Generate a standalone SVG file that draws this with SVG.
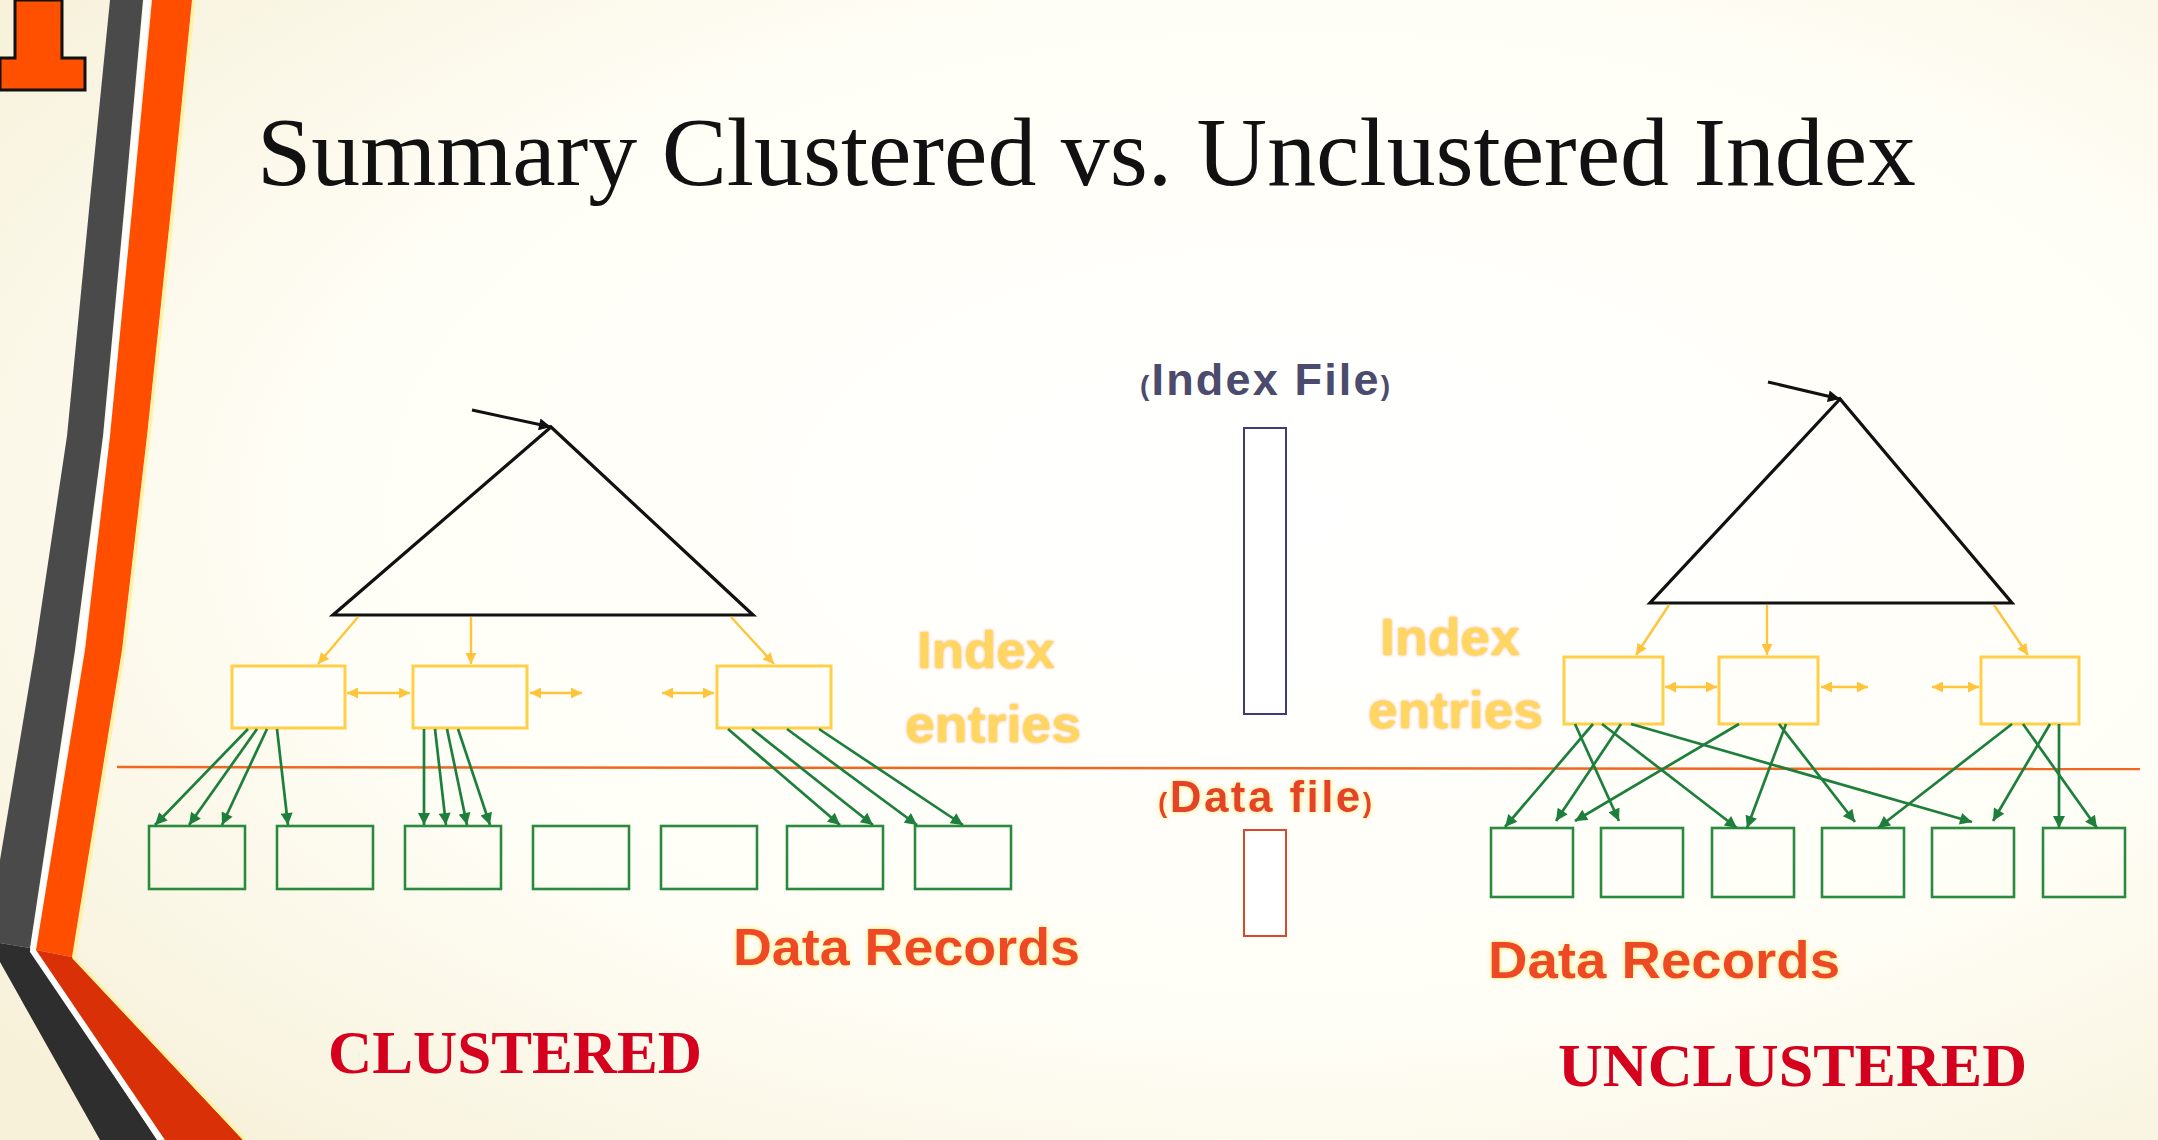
<svg xmlns="http://www.w3.org/2000/svg" width="2158" height="1140" viewBox="0 0 2158 1140">
<defs>
  <radialGradient id="bg" cx="0.6" cy="0.45" r="0.75">
    <stop offset="0" stop-color="#FFFFFF"/>
    <stop offset="0.6" stop-color="#FFFEF6"/>
    <stop offset="1" stop-color="#F7F1DA"/>
  </radialGradient>
  <marker id="ga" viewBox="0 0 10 10" refX="10" refY="5" markerWidth="16" markerHeight="12" markerUnits="userSpaceOnUse" orient="auto">
    <path d="M0,0 L10,5 L0,10 z" fill="#1E7F3C"/>
  </marker>
  <marker id="ya" viewBox="0 0 10 10" refX="10" refY="5" markerWidth="12" markerHeight="11" markerUnits="userSpaceOnUse" orient="auto-start-reverse">
    <path d="M0,0 L10,5 L0,10 z" fill="#FFC43A"/>
  </marker>
  <marker id="ba" viewBox="0 0 10 10" refX="10" refY="5" markerWidth="18" markerHeight="12" markerUnits="userSpaceOnUse" orient="auto">
    <path d="M0,0 L10,5 L0,10 z" fill="#111"/>
  </marker>
  <filter id="glowY" x="-10%" y="-20%" width="120%" height="140%">
    <feDropShadow dx="0" dy="0" stdDeviation="1.6" flood-color="#F5A060" flood-opacity="0.9"/>
  </filter>
  <filter id="glowR" x="-10%" y="-20%" width="120%" height="140%">
    <feDropShadow dx="0" dy="0" stdDeviation="2.5" flood-color="#FFE35A" flood-opacity="0.9"/>
  </filter>
  <style>
    .title{font-family:"Liberation Serif","Times New Roman",serif;font-size:97px;fill:#111}
    .big{font-family:"Liberation Serif","Times New Roman",serif;font-weight:bold;font-size:61px;fill:#D4001E}
    .ie{font-family:"Liberation Sans",Arial,sans-serif;font-weight:bold;font-size:52px;fill:#FFD65E;filter:url(#glowY)}
    .dr{font-family:"Liberation Sans",Arial,sans-serif;font-weight:bold;font-size:52px;fill:#EE4A28;filter:url(#glowR)}
    .tri{fill:none;stroke:#111;stroke-width:3.2;stroke-linejoin:miter}
    .ibox{fill:#FFFEF8;stroke:#FFCF48;stroke-width:3}
    .dbox{fill:none;stroke:#2A8A3E;stroke-width:2.6}
    .g{stroke:#1E7F3C;stroke-width:2.7;fill:none;marker-end:url(#ga)}
    .y{stroke:#FFC43A;stroke-width:2.4;fill:none;marker-end:url(#ya)}
    .yy{stroke:#FFC43A;stroke-width:2.4;fill:none;marker-start:url(#ya);marker-end:url(#ya)}
    .ptr{stroke:#111;stroke-width:3;fill:none;marker-end:url(#ba)}
  </style>
</defs>

<rect x="0" y="0" width="2158" height="1140" fill="url(#bg)"/>

<!-- left decoration -->
<g id="decoration">
  <polygon points="15,0 62,0 62,58 85,58 85,90 0,90 0,58 15,58" fill="#FF5000" stroke="#111" stroke-width="3"/>
  <polygon points="110,0 143,0 125,200 103,436 75,650 30,948 0,943 0,860 10,800 35,650 67,436 90,200" fill="#4A4A4A"/>
  <polygon points="0,943 30,948 157,1140 100,1140 0,962" fill="#2E2E2E"/>
  <polyline points="147,0 129,200 107,436 80,650 33,951 161,1140" fill="none" stroke="#FFFFFF" stroke-width="6"/>
  <polygon points="152,0 192,0 172,200 147,436 122,650 72,957 36,950 85,650 110,436 133,200" fill="#FF4E00"/>
  <polygon points="36,950 72,957 243,1140 165,1140" fill="#D93008"/>
  <polyline points="194,0 174,200 149,436 124,650 74,958 245,1140" fill="none" stroke="#FFF2A0" stroke-width="3"/>
</g>

<g id="title">
  <text class="title" x="257" y="185" textLength="1659" lengthAdjust="spacingAndGlyphs">Summary Clustered vs. Unclustered Index</text>
</g>

<!-- separator line -->
<line id="separator" x1="117" y1="767" x2="2140" y2="769" stroke="#F06820" stroke-width="2.5"/>

<!-- LEFT: clustered -->
<g id="left-tree">
  <polygon class="tri" points="551,427 333,615 753,615"/>
</g>
<g id="left-index-1"><rect class="ibox" x="232" y="666" width="113" height="62"/></g>
<g id="left-index-2"><rect class="ibox" x="413" y="666" width="114" height="62"/></g>
<g id="left-index-3"><rect class="ibox" x="717" y="666" width="114" height="62"/></g>
<g id="left-data-1"><rect class="dbox" x="149" y="826" width="96" height="63"/></g>
<g id="left-data-2"><rect class="dbox" x="277" y="826" width="96" height="63"/></g>
<g id="left-data-3"><rect class="dbox" x="405" y="826" width="96" height="63"/></g>
<g id="left-data-4"><rect class="dbox" x="533" y="826" width="96" height="63"/></g>
<g id="left-data-5"><rect class="dbox" x="661" y="826" width="96" height="63"/></g>
<g id="left-data-6"><rect class="dbox" x="787" y="826" width="96" height="63"/></g>
<g id="left-data-7"><rect class="dbox" x="915" y="826" width="96" height="63"/></g>

<!-- RIGHT: unclustered -->
<g id="right-tree">
  <polygon class="tri" points="1840,399 1650,603 2012,603"/>
</g>
<g id="right-index-1"><rect class="ibox" x="1564" y="657" width="99" height="67"/></g>
<g id="right-index-2"><rect class="ibox" x="1719" y="657" width="99" height="67"/></g>
<g id="right-index-3"><rect class="ibox" x="1981" y="657" width="98" height="67"/></g>
<g id="right-data-1"><rect class="dbox" x="1491" y="828" width="82" height="69"/></g>
<g id="right-data-2"><rect class="dbox" x="1601" y="828" width="82" height="69"/></g>
<g id="right-data-3"><rect class="dbox" x="1712" y="828" width="82" height="69"/></g>
<g id="right-data-4"><rect class="dbox" x="1822" y="828" width="82" height="69"/></g>
<g id="right-data-5"><rect class="dbox" x="1932" y="828" width="82" height="69"/></g>
<g id="right-data-6"><rect class="dbox" x="2043" y="828" width="82" height="69"/></g>

<!-- middle legend -->
<g id="index-file">
  <text x="1140" y="395" textLength="250" lengthAdjust="spacing" font-family="'Liberation Sans',Arial,sans-serif" font-weight="bold" fill="#4B4B6E"><tspan font-size="28">(</tspan><tspan font-size="45">Index File</tspan><tspan font-size="28">)</tspan></text>
  <rect x="1244" y="428" width="42" height="286" fill="#FFFFFF" stroke="#3C3C78" stroke-width="2"/>
</g>
<g id="data-file">
  <text x="1158" y="812" textLength="214" lengthAdjust="spacing" font-family="'Liberation Sans',Arial,sans-serif" font-weight="bold" fill="#E5432A" filter="url(#glowR)"><tspan font-size="28">(</tspan><tspan font-size="44">Data file</tspan><tspan font-size="28">)</tspan></text>
  <rect x="1244" y="830" width="42" height="106" fill="#FFFFFF" stroke="#D9482A" stroke-width="2"/>
</g>

<!-- labels -->
<g id="labels">
  <text class="ie" x="917" y="668" textLength="138" lengthAdjust="spacingAndGlyphs">Index</text>
  <text class="ie" x="905" y="742" textLength="176" lengthAdjust="spacingAndGlyphs">entries</text>
  <text class="ie" x="1380" y="655" textLength="140" lengthAdjust="spacingAndGlyphs">Index</text>
  <text class="ie" x="1368" y="728" textLength="175" lengthAdjust="spacingAndGlyphs">entries</text>
  <text class="dr" x="733" y="965" textLength="347" lengthAdjust="spacingAndGlyphs">Data Records</text>
  <text class="dr" x="1488" y="978" textLength="352" lengthAdjust="spacingAndGlyphs">Data Records</text>
  <text class="big" x="328" y="1073" textLength="374" lengthAdjust="spacingAndGlyphs">CLUSTERED</text>
  <text class="big" x="1558" y="1086" textLength="469" lengthAdjust="spacingAndGlyphs">UNCLUSTERED</text>
</g>

<!-- connectors -->
<g id="connectors">
  <line class="ptr" x1="472" y1="410" x2="551" y2="427"/>
  <line class="ptr" x1="1768" y1="382" x2="1840" y2="399"/>
  <line class="y" x1="358" y1="617" x2="318" y2="664"/>
  <line class="y" x1="471" y1="617" x2="471" y2="664"/>
  <line class="y" x1="731" y1="617" x2="774" y2="664"/>
  <line class="yy" x1="347" y1="693" x2="410" y2="693"/>
  <line class="yy" x1="530" y1="693" x2="582" y2="693"/>
  <line class="yy" x1="662" y1="693" x2="714" y2="693"/>
  <line class="y" x1="1669" y1="605" x2="1636" y2="655"/>
  <line class="y" x1="1767" y1="605" x2="1767" y2="655"/>
  <line class="y" x1="1994" y1="605" x2="2028" y2="655"/>
  <line class="yy" x1="1665" y1="687" x2="1717" y2="687"/>
  <line class="yy" x1="1821" y1="687" x2="1868" y2="687"/>
  <line class="yy" x1="1932" y1="687" x2="1979" y2="687"/>
  <line class="g" x1="248" y1="729" x2="155" y2="825"/>
  <line class="g" x1="257" y1="729" x2="189" y2="825"/>
  <line class="g" x1="267" y1="729" x2="222" y2="825"/>
  <line class="g" x1="277" y1="729" x2="288" y2="825"/>
  <line class="g" x1="424" y1="729" x2="424" y2="825"/>
  <line class="g" x1="435" y1="729" x2="446" y2="825"/>
  <line class="g" x1="447" y1="729" x2="467" y2="825"/>
  <line class="g" x1="458" y1="729" x2="490" y2="825"/>
  <line class="g" x1="728" y1="729" x2="840" y2="825"/>
  <line class="g" x1="752" y1="729" x2="873" y2="825"/>
  <line class="g" x1="787" y1="729" x2="917" y2="825"/>
  <line class="g" x1="819" y1="729" x2="963" y2="825"/>
  <line class="g" x1="1575" y1="724" x2="1619" y2="821"/>
  <line class="g" x1="1593" y1="724" x2="1505" y2="827"/>
  <line class="g" x1="1602" y1="724" x2="1737" y2="828"/>
  <line class="g" x1="1621" y1="724" x2="1556" y2="821"/>
  <line class="g" x1="1631" y1="724" x2="1972" y2="822"/>
  <line class="g" x1="1739" y1="724" x2="1575" y2="821"/>
  <line class="g" x1="1779" y1="724" x2="1855" y2="822"/>
  <line class="g" x1="1786" y1="724" x2="1747" y2="828"/>
  <line class="g" x1="2012" y1="724" x2="1878" y2="828"/>
  <line class="g" x1="2023" y1="724" x2="2097" y2="828"/>
  <line class="g" x1="2050" y1="724" x2="1993" y2="821"/>
  <line class="g" x1="2059" y1="724" x2="2059" y2="828"/>
</g>
</svg>
